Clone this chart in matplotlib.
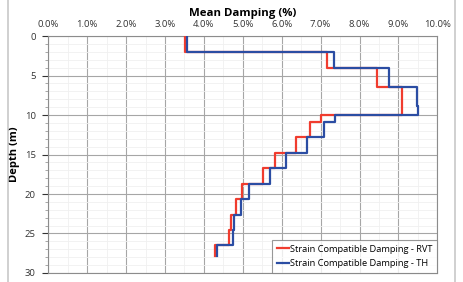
import matplotlib
matplotlib.use("Agg")
import matplotlib.pyplot as plt
from matplotlib.ticker import MultipleLocator, FuncFormatter
from matplotlib.patches import Rectangle

plt.rcParams['font.family'] = ['Open Sans', 'DejaVu Sans']

# Layer boundaries (m) and mean damping (%)
depth_bounds = [0, 2, 4, 6.5, 8.9, 10, 10.9, 12.8, 14.8, 16.75, 18.7, 20.6, 22.6, 24.5, 26.4, 27.9]
damping_rvt = [3.52, 7.16, 8.46, 9.08, 9.10, 7.00, 6.73, 6.37, 5.84, 5.51, 4.98, 4.83, 4.69, 4.65, 4.29]
damping_th = [3.57, 7.34, 8.75, 9.47, 9.51, 7.36, 7.09, 6.66, 6.11, 5.70, 5.15, 4.95, 4.77, 4.74, 4.33]
labels = ["Strain Compatible Damping - RVT", "Strain Compatible Damping - TH"]


def profile(bounds, vals):
    xs, ys = [], []
    for i, v in enumerate(vals):
        xs += [v, v]
        ys += [bounds[i], bounds[i + 1]]
    return xs, ys


fig = plt.figure(figsize=(4.64, 2.82), dpi=100)
fig.add_artist(Rectangle((0.018, -0.01), 0.962, 1.02, transform=fig.transFigure,
                         fill=False, edgecolor='#c8c8c8', linewidth=1.2))
ax = fig.add_axes([0.104, 0.032, 0.8385, 0.84])

x1, y1 = profile(depth_bounds, damping_rvt)
x2, y2 = profile(depth_bounds, damping_th)
ax.plot(x1, y1, color='#f03c2e', linewidth=1.6, label=labels[0], zorder=3)
ax.plot(x2, y2, color='#2b4da3', linewidth=1.6, label=labels[1], zorder=4)

ax.set_xlim(0, 10)
ax.set_ylim(30, 0)
ax.xaxis.set_major_locator(MultipleLocator(1))
ax.xaxis.set_minor_locator(MultipleLocator(0.5))
ax.yaxis.set_major_locator(MultipleLocator(5))
ax.yaxis.set_minor_locator(MultipleLocator(1))
ax.xaxis.set_major_formatter(FuncFormatter(lambda v, p: f"{v:.1f}%"))
ax.xaxis.tick_top()
ax.xaxis.set_label_position('top')
ax.tick_params(axis='x', which='both', length=0, labelsize=6.8, colors='#333333', pad=5)
ax.tick_params(axis='y', which='major', length=4, labelsize=6.8, colors='#333333',
               direction='out', pad=5)
ax.tick_params(axis='y', which='minor', length=2.5, direction='out', color='#999999')

ax.grid(which='major', color='#a6a6a6', linewidth=0.8)
ax.grid(which='minor', color='#f0f0f0', linewidth=0.6)
ax.set_axisbelow(True)
for s in ax.spines.values():
    s.set_color('#8c8c8c')
    s.set_linewidth(0.8)

ax.set_xlabel("Mean Damping (%)", fontsize=8.2, fontweight='bold', labelpad=3)
ax.set_ylabel("Depth (m)", fontsize=8.0, fontweight='bold')
ax.yaxis.set_label_coords(-0.073, 0.5)

leg = ax.legend(loc='lower right', bbox_to_anchor=(1.0, 0.0), fontsize=6.7, frameon=True,
                fancybox=False, edgecolor='#7f7f7f', handlelength=1.3, handletextpad=0.1,
                borderpad=0.5, labelspacing=0.6, borderaxespad=0.0)
leg.get_frame().set_linewidth(0.8)

fig.savefig("out.png", dpi=100)
